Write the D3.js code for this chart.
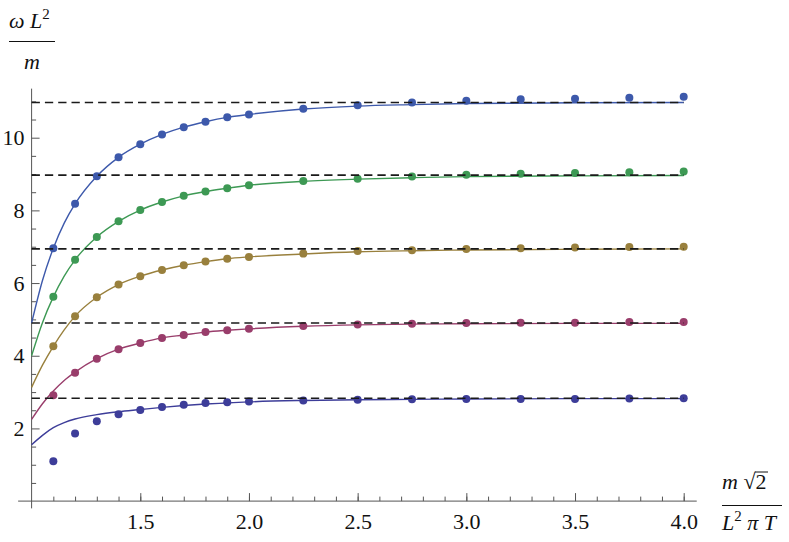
<!DOCTYPE html>
<html><head><meta charset="utf-8">
<script src="https://cdn.jsdelivr.net/npm/d3@7"></script>
<style>
html,body{margin:0;padding:0;background:#fff;}
svg{display:block;}
text{font-family:"Liberation Serif","Times New Roman",serif;}
</style></head>
<body>
<svg id="chart" width="789" height="542"></svg>
<script>
// ---------------- data ----------------
const xTickValues = [1.5, 2.0, 2.5, 3.0, 3.5, 4.0];
const yTickValues = [2, 4, 6, 8, 10];

const pointX = [1.1,1.2,1.3,1.4,1.5,1.6,1.7,1.8,1.9,2.0,2.25,2.5,2.75,3.0,3.25,3.5,3.75,4.0];
const navyPts   = [1.10,1.86,2.20,2.39,2.51,2.59,2.65,2.70,2.72,2.74,2.77,2.79,2.80,2.81,2.81,2.81,2.82,2.83];
const purplePts = [2.91,3.53,3.92,4.18,4.35,4.49,4.57,4.65,4.70,4.74,4.82,4.86,4.88,4.90,4.91,4.91,4.93,4.93];
const goldPts   = [4.26,5.09,5.61,5.96,6.19,6.36,6.49,6.59,6.67,6.72,6.81,6.88,6.90,6.94,6.96,6.98,6.99,7.00];
const greenPts  = [5.62,6.64,7.27,7.70,8.01,8.23,8.40,8.52,8.61,8.69,8.81,8.87,8.93,8.98,9.01,9.03,9.05,9.07];
const bluePts   = [6.96,8.18,8.94,9.46,9.82,10.09,10.29,10.44,10.56,10.64,10.80,10.89,10.97,11.02,11.06,11.07,11.10,11.13];

const curveX = [1.0,1.05,1.1,1.15,1.2,1.3,1.4,1.5,1.6,1.7,1.8,1.9,2.0,2.25,2.5,2.75,3.0,3.5,4.0];
const navyCurve   = [1.55,1.81,2.02,2.16,2.26,2.38,2.46,2.52,2.58,2.63,2.67,2.70,2.73,2.77,2.79,2.80,2.81,2.82,2.82];
const purpleCurve = [2.25,2.68,3.03,3.32,3.55,3.92,4.18,4.35,4.49,4.57,4.65,4.70,4.74,4.81,4.85,4.87,4.88,4.89,4.89];
const goldCurve   = [3.13,3.74,4.26,4.71,5.09,5.61,5.96,6.19,6.36,6.49,6.59,6.67,6.72,6.80,6.86,6.89,6.91,6.93,6.94];
const greenCurve  = [4.00,4.91,5.62,6.19,6.64,7.27,7.70,8.01,8.23,8.40,8.52,8.61,8.69,8.80,8.86,8.90,8.93,8.95,8.96];
const blueCurve   = [4.90,6.07,6.96,7.65,8.18,8.94,9.46,9.82,10.09,10.29,10.44,10.56,10.64,10.79,10.87,10.91,10.94,10.96,10.97];

const asymptotes = [2.83, 4.90, 6.94, 8.97, 10.97];

const seriesNames  = ["navy","purple","gold","green","blue"];
const seriesColors = ["#3d3d99","#993d6b","#99803d","#3d9954","#3d59ab"];
const seriesPts    = [navyPts, purplePts, goldPts, greenPts, bluePts];
const seriesCurves = [navyCurve, purpleCurve, goldCurve, greenCurve, blueCurve];

// ---------------- layout ----------------
const svg = d3.select("#chart");
const x = d3.scaleLinear().domain([1, 4]).range([31.6, 683.7]);
const y = d3.scaleLinear().domain([0, 10]).range([501.1, 137.7]);
const xExtent = [0.938, 4.06];
const yExtent = [-0.2, 11.35];
const axisColor = "#555";
const fontSize = 22;
const serif = "Liberation Serif, Times New Roman, serif";

// axes lines
svg.append("line")
  .attr("x1", x(xExtent[0])).attr("x2", x(xExtent[1]))
  .attr("y1", y(0)).attr("y2", y(0))
  .attr("stroke", axisColor).attr("stroke-width", 1);
svg.append("line")
  .attr("x1", x(1)).attr("x2", x(1))
  .attr("y1", y(yExtent[0])).attr("y2", y(yExtent[1]))
  .attr("stroke", axisColor).attr("stroke-width", 1);

// minor ticks
svg.append("g").attr("transform", `translate(0,${y(0)})`)
  .call(d3.axisBottom(x).tickValues(x.ticks(30).filter(v => v > 1.001)).tickSize(-4.5).tickFormat(""))
  .call(g => g.select(".domain").remove())
  .call(g => g.selectAll("line").attr("stroke", axisColor));
svg.append("g").attr("transform", `translate(${x(1)},0)`)
  .call(d3.axisLeft(y).tickValues(d3.range(1, 23).map(k => k * 0.5).filter(v => v % 2 !== 0)).tickSize(-4.5).tickFormat(""))
  .call(g => g.select(".domain").remove())
  .call(g => g.selectAll("line").attr("stroke", axisColor));

// major ticks + labels
svg.append("g").attr("transform", `translate(0,${y(0)})`)
  .call(d3.axisBottom(x).tickValues(xTickValues).tickSize(-8).tickPadding(12).tickFormat(d3.format(".1f")))
  .call(g => g.select(".domain").remove())
  .call(g => g.selectAll("line").attr("stroke", axisColor))
  .call(g => g.selectAll("text").attr("font-size", fontSize).attr("fill", "#111")
     .attr("font-family", serif));
svg.append("g").attr("transform", `translate(${x(1)},0)`)
  .call(d3.axisLeft(y).tickValues(yTickValues).tickSize(-8).tickPadding(7).tickFormat(d3.format("d")))
  .call(g => g.select(".domain").remove())
  .call(g => g.selectAll("line").attr("stroke", axisColor))
  .call(g => g.selectAll("text").attr("font-size", fontSize).attr("fill", "#111")
     .attr("font-family", serif));

// curves
const line = d3.line().x(d => x(d[0])).y(d => y(d[1])).curve(d3.curveMonotoneX);
seriesCurves.forEach((c, i) => {
  svg.append("path")
    .datum(curveX.map((xv, j) => [xv, c[j]]))
    .attr("d", line)
    .attr("fill", "none")
    .attr("stroke", seriesColors[i])
    .attr("stroke-width", 1.4);
});

// points
seriesPts.forEach((p, i) => {
  svg.append("g").selectAll("circle")
    .data(pointX.map((xv, j) => [xv, p[j]]))
    .join("circle")
    .attr("cx", d => x(d[0])).attr("cy", d => y(d[1]))
    .attr("r", 4)
    .attr("fill", seriesColors[i]);
});

// dashed asymptotes
svg.append("g").selectAll("line")
  .data(asymptotes)
  .join("line")
  .attr("x1", x(1)).attr("x2", x(4))
  .attr("y1", d => y(d)).attr("y2", d => y(d))
  .attr("stroke", "#1a1a1a").attr("stroke-width", 1.6)
  .attr("stroke-dasharray", "8.3,5");

// y axis label: omega L^2 / m
const yl = svg.append("g");
const ylt = yl.append("text").attr("x", 9).attr("y", 28).attr("font-size", fontSize).attr("font-style", "italic").attr("fill", "#111").attr("font-family", serif);
ylt.append("tspan").text("ω L");
ylt.append("tspan").attr("font-size", 15).attr("font-style", "normal").attr("dy", -9).text("2");
yl.append("line").attr("x1", 9).attr("x2", 55).attr("y1", 41.5).attr("y2", 41.5).attr("stroke", "#111").attr("stroke-width", 1);
yl.append("text").attr("x", 32).attr("y", 69).attr("text-anchor", "middle").attr("font-size", fontSize).attr("font-style", "italic").attr("fill", "#111").attr("font-family", serif).text("m");

// x axis label: m sqrt2 / (L^2 pi T)
const xl = svg.append("g");
const xlt = xl.append("text").attr("x", 722).attr("y", 489).attr("font-size", fontSize).attr("fill", "#111").attr("font-family", serif);
xlt.append("tspan").attr("font-style", "italic").text("m");
xlt.append("tspan").text(" √");
xlt.append("tspan").text("2");
xl.append("line").attr("x1", 755).attr("x2", 768).attr("y1", 472).attr("y2", 472).attr("stroke", "#111").attr("stroke-width", 1);
xl.append("line").attr("x1", 722).attr("x2", 782).attr("y1", 505.5).attr("y2", 505.5).attr("stroke", "#111").attr("stroke-width", 1);
const xlb = xl.append("text").attr("x", 722).attr("y", 530).attr("font-size", fontSize).attr("fill", "#111").attr("font-family", serif);
xlb.append("tspan").attr("font-style", "italic").text("L");
xlb.append("tspan").attr("font-size", 15).attr("dy", -9).text("2");
xlb.append("tspan").attr("dy", 9).attr("font-style", "italic").text(" π T");
</script>
</body></html>
